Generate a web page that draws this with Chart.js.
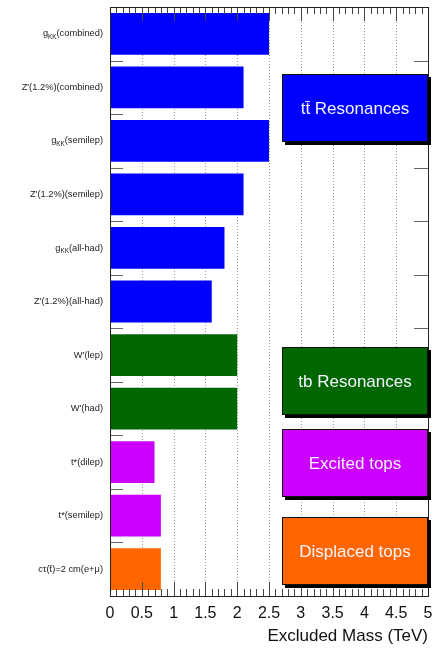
<!DOCTYPE html>
<html>
<head>
<meta charset="utf-8">
<script src="https://cdn.jsdelivr.net/npm/chart.js@4.4.0/dist/chart.umd.min.js"></script>
<style>
  html, body { margin: 0; padding: 0; background: #fff; }
  #wrap { width: 445px; height: 651px; }
</style>
</head>
<body>
<div id="wrap"><canvas id="chartLimits" width="445" height="651"></canvas></div>
<script>
// canales de búsqueda (de arriba a abajo), "_{..}" = subíndice
const channels = [
  "g_{KK}(combined)",
  "Z'(1.2%)(combined)",
  "g_{KK}(semilep)",
  "Z'(1.2%)(semilep)",
  "g_{KK}(all-had)",
  "Z'(1.2%)(all-had)",
  "W'(lep)",
  "W'(had)",
  "t*(dilep)",
  "t*(semilep)",
  "cτ(t̄)=2 cm(e+μ)",
];
// masa excluida en TeV
const limits = [2.5, 2.1, 2.5, 2.1, 1.8, 1.6, 2.0, 2.0, 0.7, 0.8, 0.8];
const groups = ["tt", "tt", "tt", "tt", "tt", "tt", "tb", "tb", "exc", "exc", "disp"];
const xTickValues = [0, 0.5, 1, 1.5, 2, 2.5, 3, 3.5, 4, 4.5, 5];
const xTitle = "Excluded Mass (TeV)";

const groupNames = {
  tt: "tt\u0304 Resonances",
  tb: "tb Resonances",
  exc: "Excited tops",
  disp: "Displaced tops",
};
const groupColors = { tt: "#0000ff", tb: "#006600", exc: "#cc00ff", disp: "#ff6600" };

// cajas de leyenda (en unidades de los ejes)
const groupBoxes = [
  { group: "tt", x0: 2.7, x1: 5, y0: 0.75, y1: 2.02 },
  { group: "tb", x0: 2.7, x1: 5, y0: 5.85, y1: 7.12 },
  { group: "exc", x0: 2.7, x1: 5, y0: 7.38, y1: 8.65 },
  { group: "disp", x0: 2.7, x1: 5, y0: 9.03, y1: 10.3 },
];

const FONT = "'Liberation Sans', Arial, Helvetica, sans-serif";

// texto con subíndices, alineado a la derecha
function drawRich(ctx, text, xRight, y, size) {
  const parts = [];
  const re = /_\{([^}]*)\}/g;
  let last = 0, m;
  while ((m = re.exec(text)) !== null) {
    if (m.index > last) parts.push({ t: text.slice(last, m.index), sub: false });
    parts.push({ t: m[1], sub: true });
    last = re.lastIndex;
  }
  if (last < text.length) parts.push({ t: text.slice(last), sub: false });

  const subSize = size * 0.68;
  let total = 0;
  parts.forEach((p) => {
    ctx.font = (p.sub ? subSize : size) + "px " + FONT;
    p.w = ctx.measureText(p.t).width;
    total += p.w;
  });
  let x = xRight - total;
  ctx.textAlign = "left";
  ctx.textBaseline = "middle";
  parts.forEach((p) => {
    ctx.font = (p.sub ? subSize : size) + "px " + FONT;
    ctx.fillText(p.t, x, p.sub ? y + 3 : y);
    x += p.w;
  });
}

const framePlugin = {
  id: "frameTicks",
  beforeDatasetsDraw(chart) {
    // rejilla vertical punteada
    const { ctx, chartArea: a, scales } = chart;
    ctx.save();
    ctx.strokeStyle = "#9a9a9a";
    ctx.lineWidth = 1;
    ctx.setLineDash([1, 2]);
    xTickValues.forEach((v) => {
      const px = Math.round(scales.x.getPixelForValue(v)) + 0.5;
      ctx.beginPath();
      ctx.moveTo(px, a.top);
      ctx.lineTo(px, a.bottom);
      ctx.stroke();
    });
    ctx.restore();
  },
  afterDatasetsDraw(chart) {
    const { ctx, chartArea: a, scales } = chart;
    const xs = scales.x, ys = scales.y;
    ctx.save();
    ctx.lineWidth = 1;

    // ticks del eje x (arriba y abajo, hacia dentro)
    ctx.strokeStyle = "#444";
    for (let k = 0; k <= 50; k++) {
      const px = Math.round(xs.getPixelForValue(k / 10)) + 0.5;
      const len = k % 5 === 0 ? 14 : 7;
      ctx.beginPath();
      ctx.moveTo(px, a.top);
      ctx.lineTo(px, a.top + len);
      ctx.moveTo(px, a.bottom);
      ctx.lineTo(px, a.bottom - len);
      ctx.stroke();
    }

    // ticks del eje y en los límites de categoría
    ctx.strokeStyle = "#666";
    for (let i = 0; i < channels.length - 1; i++) {
      const py = Math.round(ys.getPixelForValue(i + 0.5)) + 0.5;
      ctx.beginPath();
      ctx.moveTo(a.left, py);
      ctx.lineTo(a.left + 13, py);
      ctx.moveTo(a.right, py);
      ctx.lineTo(a.right - 14, py);
      ctx.stroke();
    }

    // marco
    ctx.strokeStyle = "#222";
    ctx.strokeRect(Math.round(a.left) + 0.5, Math.round(a.top) + 0.5,
      Math.round(a.right - a.left), Math.round(a.bottom - a.top));
    ctx.restore();
  },
  afterDraw(chart) {
    const { ctx, chartArea: a, scales } = chart;
    const xs = scales.x, ys = scales.y;
    ctx.save();

    // etiquetas de categoría
    ctx.fillStyle = "#222";
    channels.forEach((c, i) => {
      drawRich(ctx, c, a.left - 7, ys.getPixelForValue(i), 9.3);
    });

    // cajas con sombra
    groupBoxes.forEach((b) => {
      const x0 = Math.round(xs.getPixelForValue(b.x0));
      const x1 = Math.round(xs.getPixelForValue(b.x1));
      const y0 = Math.round(ys.getPixelForValue(b.y0));
      const y1 = Math.round(ys.getPixelForValue(b.y1));
      ctx.fillStyle = "#000";
      ctx.fillRect(x0 + 3, y0 + 3, x1 - x0, y1 - y0);
      ctx.fillStyle = groupColors[b.group];
      ctx.fillRect(x0, y0, x1 - x0, y1 - y0);
      ctx.strokeStyle = "#111";
      ctx.lineWidth = 1;
      ctx.strokeRect(x0 + 0.5, y0 + 0.5, x1 - x0 - 1, y1 - y0 - 1);
      ctx.fillStyle = "#f4f4ff";
      ctx.font = "17px " + FONT;
      ctx.textAlign = "center";
      ctx.textBaseline = "middle";
      ctx.fillText(groupNames[b.group], (x0 + x1) / 2, (y0 + y1) / 2 + 1);
    });
    ctx.restore();
  },
};

new Chart(document.getElementById("chartLimits"), {
  type: "bar",
  data: {
    labels: channels,
    datasets: [
      {
        data: limits,
        backgroundColor: groups.map((g) => groupColors[g]),
        borderWidth: 0,
        barPercentage: 0.78,
        categoryPercentage: 1,
      },
    ],
  },
  options: {
    indexAxis: "y",
    responsive: false,
    animation: false,
    devicePixelRatio: 1,
    layout: { padding: { top: 7, right: 17, left: 0, bottom: 0 } },
    plugins: {
      legend: { display: false },
      tooltip: { enabled: false },
    },
    scales: {
      x: {
        min: 0,
        max: 5,
        afterFit: (s) => { s.height = 55; },
        afterBuildTicks: (s) => { s.ticks = xTickValues.map((v) => ({ value: v })); },
        grid: { display: false, drawTicks: false },
        border: { display: false },
        ticks: {
          padding: 8,
          color: "#111",
          font: { family: FONT, size: 16 },
          maxRotation: 0,
          autoSkip: false,
          callback: (v) => String(v),
        },
        title: {
          display: true,
          text: xTitle,
          align: "end",
          color: "#111",
          font: { family: FONT, size: 17 },
          padding: { top: 0, bottom: 4 },
        },
      },
      y: {
        type: "category",
        offset: true,
        afterFit: (s) => { s.width = 110; },
        grid: { display: false },
        border: { display: false },
        ticks: { display: false },
      },
    },
  },
  plugins: [framePlugin],
});
</script>
</body>
</html>
